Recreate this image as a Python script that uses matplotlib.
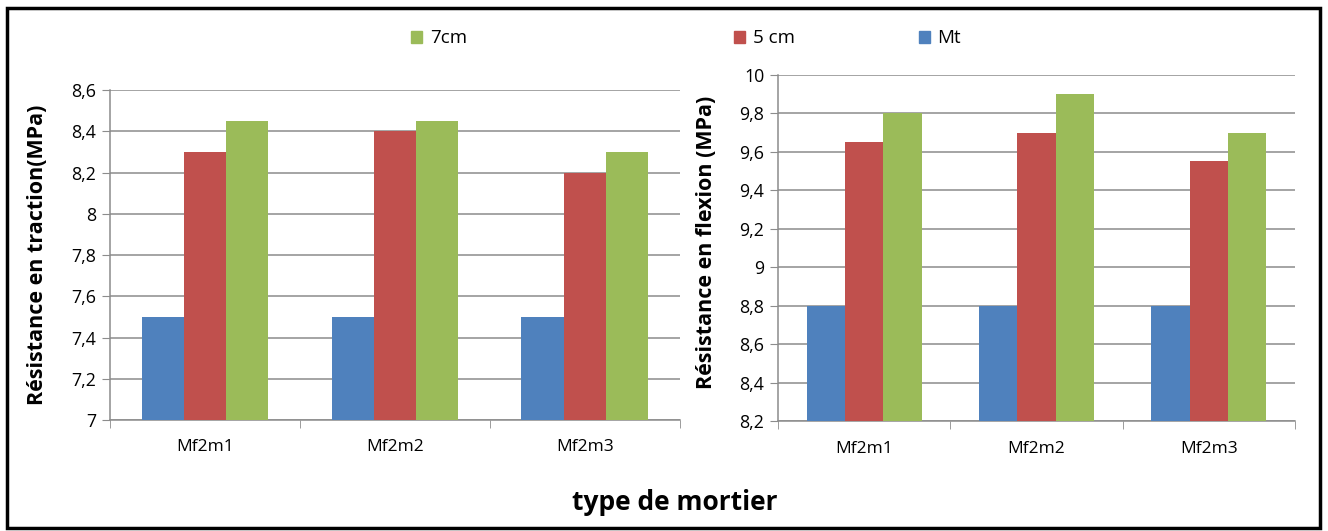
import matplotlib
matplotlib.use("Agg")
import matplotlib.pyplot as plt
import numpy as np
from matplotlib.ticker import FuncFormatter, MultipleLocator, FixedLocator
from matplotlib.patches import Rectangle, Patch

plt.rcParams['font.family'] = ['Open Sans', 'DejaVu Sans']

# donnees
categories = ["Mf2m1", "Mf2m2", "Mf2m3"]
series = ["Mt", "5 cm", "7cm"]
traction_mt = [7.5, 7.5, 7.5]
traction_5cm = [8.3, 8.4, 8.2]
traction_7cm = [8.45, 8.45, 8.3]
flexion_mt = [8.8, 8.8, 8.8]
flexion_5cm = [9.65, 9.7, 9.55]
flexion_7cm = [9.8, 9.9, 9.7]

colors = ["#4F81BD", "#C0504D", "#9BBB59"]
grid_col = "#8c8c8c"

fig = plt.figure(figsize=(13.28, 5.31), dpi=100)
ax1 = fig.add_axes([0.0828, 0.209, 0.429, 0.6215])
ax2 = fig.add_axes([0.586, 0.207, 0.389, 0.652])

comma = FuncFormatter(lambda v, p: ("%g" % round(v, 2)).replace(".", ","))


def draw(ax, data, ylim, step, ylabel):
    x = np.arange(len(categories))
    w = 1 / 4.5
    for i, vals in enumerate(data):
        ax.bar(x + (i - 1) * w, [v - ylim[0] for v in vals], w, bottom=ylim[0],
               color=colors[i], zorder=3, linewidth=0)
    ax.set_xlim(-0.5, len(categories) - 0.5)
    ax.set_ylim(*ylim)
    ax.yaxis.set_major_locator(MultipleLocator(step))
    ax.yaxis.set_major_formatter(comma)
    ax.grid(axis="y", color=grid_col, linewidth=1.1, zorder=0)
    ax.set_xticks(x)
    ax.set_xticklabels(categories, fontsize=12.5)
    ax.xaxis.set_minor_locator(FixedLocator(np.arange(-0.5, len(categories), 1)))
    ax.tick_params(axis="x", which="major", length=0, pad=14)
    ax.tick_params(axis="x", which="minor", length=6, color=grid_col, direction="out")
    ax.tick_params(axis="y", length=6, color=grid_col, labelsize=12.8, pad=4)
    for s in ["top", "right"]:
        ax.spines[s].set_visible(False)
    for s in ["left", "bottom"]:
        ax.spines[s].set_color(grid_col)
        ax.spines[s].set_linewidth(1.1)
    ax.set_ylabel(ylabel, fontsize=15.5, fontweight="bold")


draw(ax1, [traction_mt, traction_5cm, traction_7cm], (7, 8.6), 0.2,
     "Résistance en traction(MPa)")
draw(ax2, [flexion_mt, flexion_5cm, flexion_7cm], (8.2, 10), 0.2,
     "Résistance en flexion (MPa)")
ax1.yaxis.set_label_coords(-0.108, 0.5)
ax2.yaxis.set_label_coords(-0.118, 0.517)

# legende : trois entrees placees separement
legend_x = {"7cm": 0.304, "5 cm": 0.547, "Mt": 0.686}
for name, col in zip(series, colors):
    fig.legend(handles=[Patch(color=col, label=name)], loc="center left",
               bbox_to_anchor=(legend_x[name], 0.928), frameon=False,
               fontsize=13.5, handlelength=0.6, handleheight=0.6,
               handletextpad=0.4, borderaxespad=0)

fig.text(0.508, 0.054, "type de mortier", ha="center", va="center",
         fontsize=19, fontweight="bold")

# cadre
fig.patches.append(Rectangle((0.005, 0.006), 0.989, 0.979, transform=fig.transFigure,
                             fill=False, edgecolor="black", linewidth=2.5))

fig.savefig("out.png", dpi=100)
